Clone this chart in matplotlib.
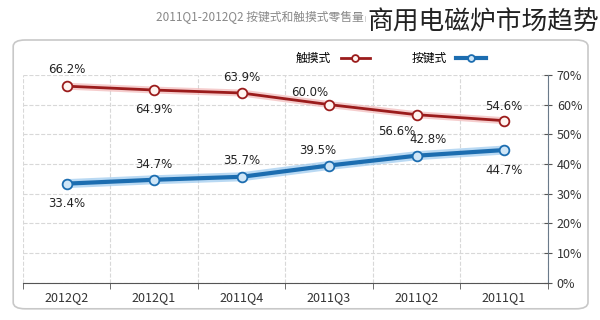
import matplotlib.pyplot as plt
from matplotlib.patches import FancyBboxPatch

plt.rcParams['font.family'] = ['Noto Sans CJK SC', 'DejaVu Sans']

# time order; drawn mirrored like the reference (y axis on the right)
quarters = ["2011Q1", "2011Q2", "2011Q3", "2011Q4", "2012Q1", "2012Q2"]
touch = [54.6, 56.6, 60.0, 63.9, 64.9, 66.2]     # 触摸式
button = [44.7, 42.8, 39.5, 35.7, 34.7, 33.4]    # 按键式
yticks = [0, 10, 20, 30, 40, 50, 60, 70]

red = "#9b1c1c"
blue = "#1c6db0"

fig = plt.figure(figsize=(6, 3.2), dpi=100)
fig.patch.set_facecolor("white")

box = FancyBboxPatch((0.022, 0.035), 0.958, 0.84,
                     boxstyle="round,pad=0,rounding_size=0.02",
                     transform=fig.transFigure, facecolor="white",
                     edgecolor="#c8c8c8", linewidth=1.2, zorder=-5)
fig.patches.append(box)

ax = fig.add_axes([0.038, 0.116, 0.875, 0.65])
ax.set_facecolor("none")
x = list(range(len(quarters)))

ax.plot(x, touch, color="#f2b8b8", lw=5, alpha=0.7, solid_capstyle="round")
ax.plot(x, touch, color=red, lw=2, marker="o", ms=7,
        mfc="#fff4f0", mec=red, mew=1.3, label="触摸式")
ax.plot(x, button, color="#9cc9ee", lw=6.5, alpha=0.7, solid_capstyle="round")
ax.plot(x, button, color=blue, lw=3, marker="o", ms=7,
        mfc="#cfe6f7", mec=blue, mew=1.3, label="按键式")

ax.set_xlim(5.5, -0.5)
ax.set_ylim(0, 70)

ax.set_xticks(x)
ax.set_xticklabels(quarters, fontsize=9, color="#333333")
ax.set_xticks([i - 0.5 for i in range(len(quarters) + 1)], minor=True)
ax.tick_params(axis="x", which="major", length=0, pad=6)
ax.tick_params(axis="x", which="minor", length=4, color="#555555")
ax.grid(True, which="minor", axis="x", ls="--", color="#d8d8d8", lw=0.8)

ax.yaxis.tick_right()
ax.set_yticks(yticks)
ax.set_yticklabels([f"{v}%" for v in yticks], fontsize=9, color="#333333")
ax.tick_params(axis="y", direction="inout", length=6, color="#555555")
ax.grid(True, which="major", axis="y", ls="--", color="#d8d8d8", lw=0.8)

for s in ["top", "left"]:
    ax.spines[s].set_visible(False)
ax.spines["right"].set_color("#6a7a8a")
ax.spines["bottom"].set_color("#555555")

# point labels: offsets in points (dx, dy)
touch_off = [(0, 10), (-14, -12), (-14, 9), (0, 11), (0, -14), (0, 12)]
button_off = [(0, -15), (8, 12), (-8, 11), (0, 12), (0, 11), (0, -14)]
for i in x:
    ax.annotate(f"{touch[i]:.1f}%", (i, touch[i]), textcoords="offset points",
                xytext=touch_off[i], ha="center", va="center",
                fontsize=8.5, color="#222222", family="DejaVu Sans")
    ax.annotate(f"{button[i]:.1f}%", (i, button[i]), textcoords="offset points",
                xytext=button_off[i], ha="center", va="center",
                fontsize=8.5, color="#222222", family="DejaVu Sans")

leg = ax.legend(loc="upper left", bbox_to_anchor=(0.5, 1.16), ncol=2,
                frameon=False, fontsize=8.5, markerfirst=False,
                handlelength=2.5, columnspacing=3.5, markerscale=0.7)

fig.text(0.26, 0.945, "2011Q1-2012Q2 按键式和触摸式零售量占比",
         fontsize=8.5, color="#888888", va="center", ha="left")
fig.text(0.998, 0.93, "商用电磁炉市场趋势", fontsize=18.5, color="#222222",
         ha="right", va="center", fontweight="light",
         bbox=dict(facecolor="white", edgecolor="none", pad=1))

fig.savefig("out.png", dpi=100)
